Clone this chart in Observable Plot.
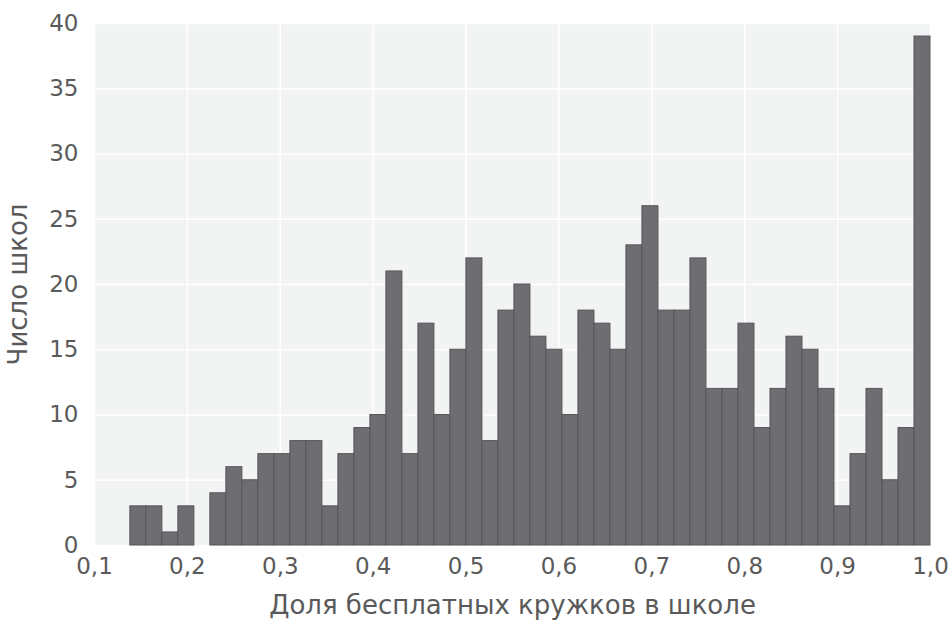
<!DOCTYPE html>
<html>
<head>
<meta charset="utf-8">
<script src="https://cdn.jsdelivr.net/npm/d3@7"></script>
<script src="https://cdn.jsdelivr.net/npm/@observablehq/plot@0.6"></script>
<style>
  html, body { margin: 0; padding: 0; background: #fff; }
  svg { display: block; }
</style>
</head>
<body>
<div id="chart"></div>
<script>
// Histogram counts, one per bin (50 bins, left to right)
const counts = [3, 3, 1, 3, 0, 4, 6, 5, 7, 7, 8, 8, 3, 7, 9, 10, 21, 7, 17, 10,
                15, 22, 8, 18, 20, 16, 15, 10, 18, 17, 15, 23, 26, 18, 18, 22, 12, 12, 17, 9,
                12, 16, 15, 12, 3, 7, 12, 5, 9, 39];
// Range covered by the bins
const binRange = [0.1386, 1.0];
const xTicks = [0.1, 0.2, 0.3, 0.4, 0.5, 0.6, 0.7, 0.8, 0.9, 1.0];
const yTicks = [0, 5, 10, 15, 20, 25, 30, 35, 40];
const xTitle = "Доля бесплатных кружков в школе";
const yTitle = "Число школ";

const binW = (binRange[1] - binRange[0]) / counts.length;
const bins = counts.map((c, i) => ({
  x1: binRange[0] + i * binW,
  x2: binRange[0] + (i + 1) * binW,
  count: c
}));

const fmt = d => d.toFixed(1).replace(".", ",");
const textColor = "#5a5a5a";
const font = "DejaVu Sans, Verdana, sans-serif";

const chart = Plot.plot({
  width: 948,
  height: 625,
  marginLeft: 94,
  marginRight: 18,
  marginTop: 23,
  marginBottom: 80,
  style: { fontFamily: font, color: textColor, background: "#fff", overflow: "visible" },
  x: { domain: [0.1, 1.0] },
  y: { domain: [0, 40] },
  marks: [
    Plot.frame({ fill: "#f2f3f3", stroke: null }),
    Plot.gridX(xTicks, { stroke: "#ffffff", strokeOpacity: 1, strokeWidth: 1.5 }),
    Plot.gridY(yTicks, { stroke: "#ffffff", strokeOpacity: 1, strokeWidth: 1.5 }),
    Plot.rectY(bins, {
      filter: d => d.count > 0,
      x1: "x1", x2: "x2", y: "count",
      fill: "#6d6d72", stroke: "#55555a", strokeWidth: 1, inset: 0
    }),
    Plot.axisX(xTicks, { tickFormat: fmt, tickSize: 0, tickPadding: 12, fontSize: 23, label: null, fill: textColor }),
    Plot.axisY(yTicks, { tickSize: 0, tickPadding: 16, fontSize: 23, label: null, fill: textColor }),
    Plot.text([xTitle], { frameAnchor: "bottom", textAnchor: "middle", dy: 68, text: d => d, fontSize: 26, letterSpacing: 0.6, fill: textColor }),
    Plot.text([yTitle], { frameAnchor: "left", textAnchor: "middle", dx: -76, rotate: -90, text: d => d, fontSize: 26, letterSpacing: 0.6, fill: textColor })
  ]
});
document.getElementById("chart").appendChild(chart);
</script>
</body>
</html>
